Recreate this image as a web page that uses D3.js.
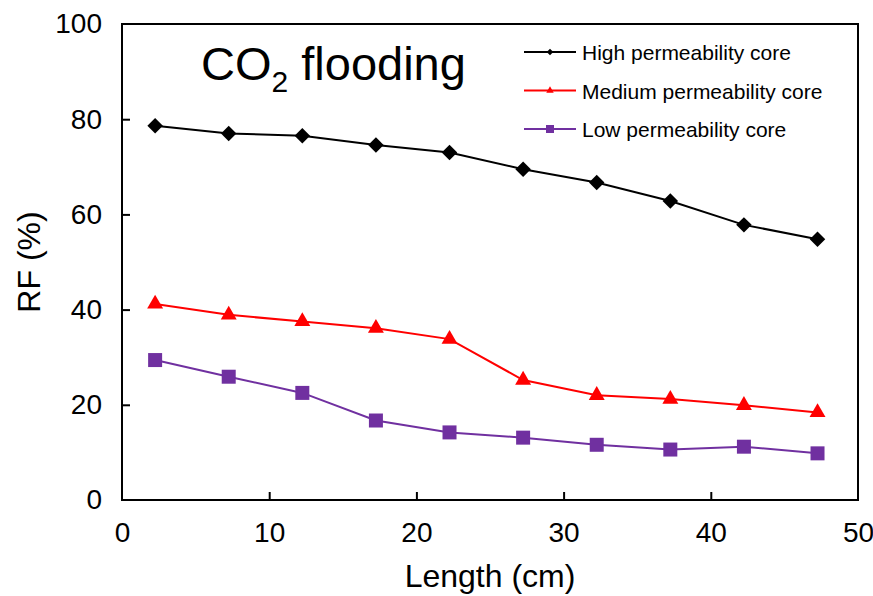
<!DOCTYPE html>
<html>
<head>
<meta charset="utf-8">
<script src="https://cdn.jsdelivr.net/npm/d3@7"></script>
<style>
  html, body { margin: 0; padding: 0; background: #fff; }
  svg { display: block; font-family: "Liberation Sans", Arial, sans-serif; }
</style>
</head>
<body>
<div id="chart"></div>
<script>
/* RF vs core length, CO2 flooding — three permeability cores. */

var lengths = [2.25, 7.25, 12.25, 17.25, 22.25, 27.25, 32.25, 37.25, 42.25, 47.25];
var highRF = [78.6, 77.0, 76.5, 74.6, 73.0, 69.5, 66.7, 62.8, 57.8, 54.8];
var mediumRF = [41.2, 38.9, 37.5, 36.1, 33.8, 25.2, 22.0, 21.2, 19.9, 18.4];
var lowRF = [29.4, 25.9, 22.5, 16.7, 14.2, 13.1, 11.6, 10.6, 11.2, 9.8];
var seriesNames = ["High permeability core", "Medium permeability core", "Low permeability core"];
var xTicks = [0, 10, 20, 30, 40, 50];
var yTicks = [0, 20, 40, 60, 80, 100];

var W = 873, H = 596;
var m = { left: 122, top: 24, right: 15, bottom: 96 };
var iw = W - m.left - m.right, ih = H - m.top - m.bottom;

var svg = d3.select("#chart").append("svg").attr("width", W).attr("height", H);
var g = svg.append("g").attr("transform", "translate(" + m.left + "," + m.top + ")");

var x = d3.scaleLinear().domain([0, 50]).range([0, iw]);
var y = d3.scaleLinear().domain([0, 100]).range([ih, 0]);

// frame
g.append("rect").attr("width", iw).attr("height", ih)
  .attr("fill", "none").attr("stroke", "#000").attr("stroke-width", 2);

var xAxis = g.append("g").attr("transform", "translate(0," + ih + ")")
  .call(d3.axisBottom(x).tickValues(xTicks).tickSize(-8).tickPadding(22));
var yAxis = g.append("g")
  .call(d3.axisLeft(y).tickValues(yTicks).tickSize(-8).tickPadding(20));
[xAxis, yAxis].forEach(function (a) {
  a.select(".domain").remove();
  a.selectAll(".tick line").attr("stroke", "#000").attr("stroke-width", 2);
  a.selectAll(".tick text").attr("fill", "#000").style("font-size", "28px")
    .style("font-family", "'Liberation Sans', Arial, sans-serif");
});
xAxis.selectAll(".tick line").filter(function (d) { return d === 0 || d === 50; }).remove();
yAxis.selectAll(".tick line").filter(function (d) { return d === 0 || d === 100; }).remove();

svg.append("text").attr("x", m.left + iw / 2).attr("y", 587)
  .attr("text-anchor", "middle").style("font-size", "32px").text("Length (cm)");
svg.append("text").attr("transform", "translate(40," + (m.top + ih / 2) + ") rotate(-90)")
  .attr("text-anchor", "middle").style("font-size", "32px").text("RF (%)");

var title = svg.append("text").attr("x", 201).attr("y", 80).style("font-size", "47px");
title.append("tspan").text("CO");
title.append("tspan").attr("dy", 12).style("font-size", "30px").text("2");
title.append("tspan").attr("dy", -12).text(" flooding");

// rot: 45 turns the square marker into the diamond used for the high-permeability core
var series = [
  { name: seriesNames[0], values: highRF, color: "#000000", shape: d3.symbolSquare, rot: 45, size: 120, legendSize: 22 },
  { name: seriesNames[1], values: mediumRF, color: "#ff0000", shape: d3.symbolTriangle, rot: 0, size: 110, legendSize: 24 },
  { name: seriesNames[2], values: lowRF, color: "#7030a0", shape: d3.symbolSquare, rot: 0, size: 196, legendSize: 64 }
];

var line = d3.line()
  .x(function (d) { return x(d[0]); })
  .y(function (d) { return y(d[1]); });

series.forEach(function (s) {
  var pts = lengths.map(function (l, i) { return [l, s.values[i]]; });
  g.append("path").datum(pts).attr("fill", "none")
    .attr("stroke", s.color).attr("stroke-width", 2).attr("d", line);
  g.selectAll(null).data(pts).enter().append("path")
    .attr("transform", function (d) {
      return "translate(" + x(d[0]) + "," + y(d[1]) + ") rotate(" + s.rot + ")";
    })
    .attr("d", d3.symbol().type(s.shape).size(s.size))
    .attr("fill", s.color);
});

// legend
var lg = svg.append("g").attr("transform", "translate(524,52)");
series.forEach(function (s, i) {
  var row = lg.append("g").attr("transform", "translate(0," + (i * 38.5) + ")");
  row.append("line").attr("x1", 0).attr("x2", 52).attr("y1", 0).attr("y2", 0)
    .attr("stroke", s.color).attr("stroke-width", 2);
  row.append("path").attr("transform", "translate(26,0) rotate(" + s.rot + ")")
    .attr("d", d3.symbol().type(s.shape).size(s.legendSize)).attr("fill", s.color);
  row.append("text").attr("x", 58).attr("y", 8).style("font-size", "21px").text(s.name);
});
</script>
</body>
</html>
